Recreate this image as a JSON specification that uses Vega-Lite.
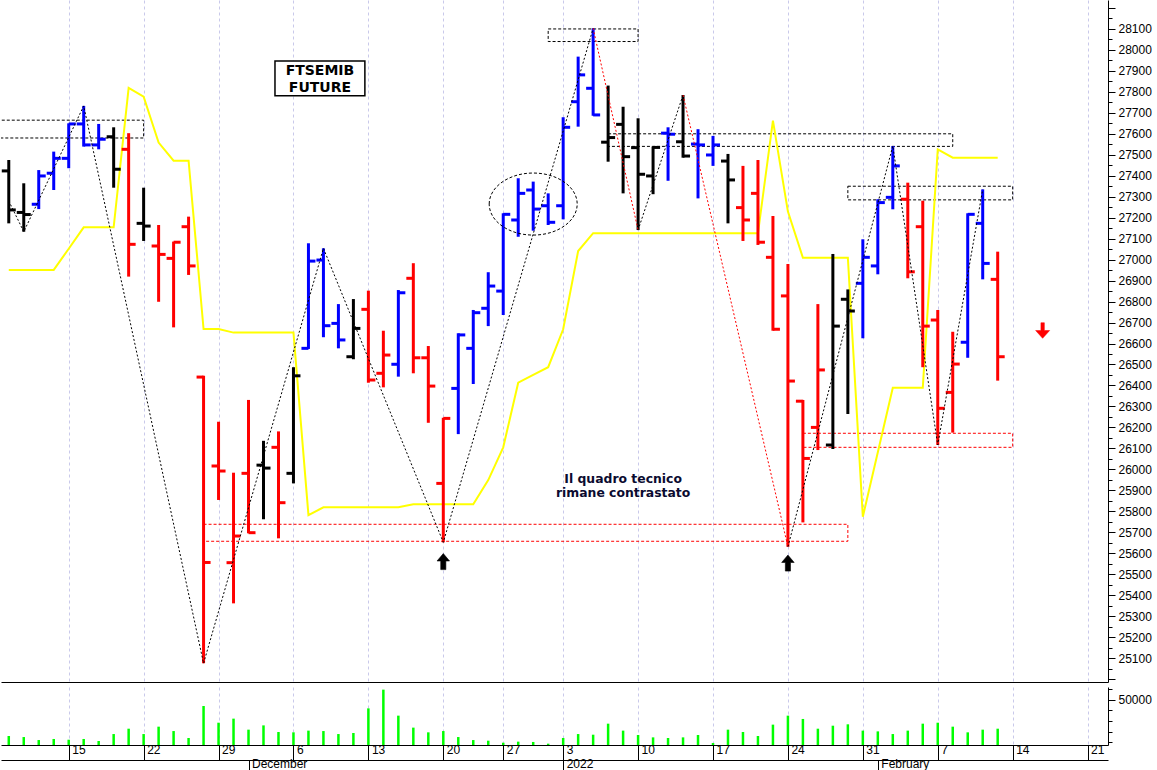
{
  "$schema": "https://vega.github.io/schema/vega-lite/v6.json",
  "padding": 0,
  "background": "#ffffff",
  "config": {"view": {"stroke": null}, "font": "Liberation Sans"},
  "spacing": 0,
  "datasets": {
    "ohlc": [
      {"date":"2021-11-09","o":27423,"h":27475,"l":27173,"c":27237,"trend":"neutral"},
      {"date":"2021-11-10","o":27225,"h":27364,"l":27133,"c":27215,"trend":"neutral"},
      {"date":"2021-11-11","o":27264,"h":27427,"l":27241,"c":27399,"trend":"up"},
      {"date":"2021-11-12","o":27412,"h":27515,"l":27332,"c":27483,"trend":"up"},
      {"date":"2021-11-15","o":27483,"h":27650,"l":27436,"c":27647,"trend":"up"},
      {"date":"2021-11-16","o":27647,"h":27733,"l":27539,"c":27547,"trend":"up"},
      {"date":"2021-11-17","o":27547,"h":27647,"l":27526,"c":27574,"trend":"up"},
      {"date":"2021-11-18","o":27586,"h":27631,"l":27343,"c":27431,"trend":"neutral"},
      {"date":"2021-11-19","o":27526,"h":27603,"l":26919,"c":27073,"trend":"down"},
      {"date":"2021-11-22","o":27173,"h":27343,"l":27089,"c":27160,"trend":"neutral"},
      {"date":"2021-11-23","o":27065,"h":27165,"l":26799,"c":27025,"trend":"down"},
      {"date":"2021-11-24","o":27006,"h":27086,"l":26677,"c":27083,"trend":"down"},
      {"date":"2021-11-25","o":27157,"h":27205,"l":26927,"c":26970,"trend":"down"},
      {"date":"2021-11-26","o":26440,"h":26446,"l":25075,"c":25556,"trend":"down"},
      {"date":"2021-11-29","o":26016,"h":26227,"l":25854,"c":25992,"trend":"down"},
      {"date":"2021-11-30","o":25555,"h":25984,"l":25361,"c":25682,"trend":"down"},
      {"date":"2021-12-01","o":25981,"h":26331,"l":25695,"c":25698,"trend":"down"},
      {"date":"2021-12-02","o":26020,"h":26136,"l":25762,"c":26006,"trend":"neutral"},
      {"date":"2021-12-03","o":26105,"h":26181,"l":25671,"c":25841,"trend":"down"},
      {"date":"2021-12-06","o":25981,"h":26487,"l":25933,"c":26446,"trend":"neutral"},
      {"date":"2021-12-07","o":26577,"h":27078,"l":26574,"c":26993,"trend":"up"},
      {"date":"2021-12-08","o":26998,"h":27054,"l":26630,"c":26685,"trend":"up"},
      {"date":"2021-12-09","o":26696,"h":26788,"l":26577,"c":26617,"trend":"up"},
      {"date":"2021-12-10","o":26537,"h":26812,"l":26525,"c":26672,"trend":"neutral"},
      {"date":"2021-12-13","o":26763,"h":26852,"l":26413,"c":26426,"trend":"down"},
      {"date":"2021-12-14","o":26458,"h":26661,"l":26391,"c":26545,"trend":"down"},
      {"date":"2021-12-15","o":26501,"h":26855,"l":26442,"c":26842,"trend":"up"},
      {"date":"2021-12-16","o":26911,"h":26983,"l":26458,"c":26532,"trend":"down"},
      {"date":"2021-12-17","o":26532,"h":26588,"l":26222,"c":26397,"trend":"down"},
      {"date":"2021-12-20","o":25933,"h":26246,"l":25652,"c":26243,"trend":"down"},
      {"date":"2021-12-21","o":26386,"h":26649,"l":26168,"c":26641,"trend":"up"},
      {"date":"2021-12-22","o":26577,"h":26760,"l":26407,"c":26747,"trend":"up"},
      {"date":"2021-12-23","o":26768,"h":26940,"l":26683,"c":26874,"trend":"up"},
      {"date":"2021-12-27","o":26850,"h":27221,"l":26736,"c":27216,"trend":"up"},
      {"date":"2021-12-28","o":27189,"h":27388,"l":27109,"c":27316,"trend":"up"},
      {"date":"2021-12-29","o":27332,"h":27372,"l":27138,"c":27241,"trend":"up"},
      {"date":"2021-12-30","o":27257,"h":27316,"l":27165,"c":27178,"trend":"up"},
      {"date":"2022-01-03","o":27257,"h":27679,"l":27192,"c":27631,"trend":"up"},
      {"date":"2022-01-04","o":27753,"h":27968,"l":27634,"c":27881,"trend":"up"},
      {"date":"2022-01-05","o":27817,"h":28103,"l":27686,"c":27690,"trend":"up"},
      {"date":"2022-01-06","o":27560,"h":27830,"l":27467,"c":27582,"trend":"neutral"},
      {"date":"2022-01-07","o":27645,"h":27729,"l":27316,"c":27491,"trend":"neutral"},
      {"date":"2022-01-10","o":27534,"h":27674,"l":27141,"c":27407,"trend":"neutral"},
      {"date":"2022-01-11","o":27399,"h":27539,"l":27312,"c":27535,"trend":"neutral"},
      {"date":"2022-01-12","o":27603,"h":27631,"l":27376,"c":27598,"trend":"up"},
      {"date":"2022-01-13","o":27562,"h":27785,"l":27486,"c":27494,"trend":"neutral"},
      {"date":"2022-01-14","o":27551,"h":27622,"l":27292,"c":27547,"trend":"up"},
      {"date":"2022-01-17","o":27499,"h":27590,"l":27447,"c":27547,"trend":"up"},
      {"date":"2022-01-18","o":27470,"h":27504,"l":27173,"c":27380,"trend":"neutral"},
      {"date":"2022-01-19","o":27248,"h":27447,"l":27089,"c":27189,"trend":"down"},
      {"date":"2022-01-20","o":27316,"h":27475,"l":27070,"c":27083,"trend":"down"},
      {"date":"2022-01-21","o":27011,"h":27208,"l":26661,"c":26668,"trend":"down"},
      {"date":"2022-01-24","o":26827,"h":26979,"l":25631,"c":26421,"trend":"down"},
      {"date":"2022-01-25","o":26325,"h":26331,"l":25747,"c":26052,"trend":"down"},
      {"date":"2022-01-26","o":26200,"h":26788,"l":26092,"c":26474,"trend":"down"},
      {"date":"2022-01-27","o":26116,"h":27027,"l":26097,"c":26683,"trend":"neutral"},
      {"date":"2022-01-28","o":26811,"h":26858,"l":26264,"c":26755,"trend":"neutral"},
      {"date":"2022-01-31","o":26887,"h":27097,"l":26625,"c":27011,"trend":"up"},
      {"date":"2022-02-01","o":26970,"h":27288,"l":26930,"c":27272,"trend":"up"},
      {"date":"2022-02-02","o":27297,"h":27542,"l":27240,"c":27447,"trend":"up"},
      {"date":"2022-02-03","o":27288,"h":27367,"l":26911,"c":26942,"trend":"down"},
      {"date":"2022-02-04","o":27157,"h":27281,"l":26487,"c":26683,"trend":"down"},
      {"date":"2022-02-07","o":26712,"h":26760,"l":26116,"c":26291,"trend":"down"},
      {"date":"2022-02-08","o":26367,"h":26656,"l":26175,"c":26502,"trend":"down"},
      {"date":"2022-02-09","o":26606,"h":27221,"l":26532,"c":27216,"trend":"up"},
      {"date":"2022-02-10","o":27173,"h":27335,"l":26906,"c":26982,"trend":"up"},
      {"date":"2022-02-11","o":26906,"h":27038,"l":26423,"c":26537,"trend":"down"}
    ],
    "yellow": [
      {"date":"2021-11-09","price":26951},{"date":"2021-11-10","price":26951},{"date":"2021-11-11","price":26951},{"date":"2021-11-12","price":26951},
      {"date":"2021-11-15","price":27052},{"date":"2021-11-16","price":27154},{"date":"2021-11-17","price":27154},{"date":"2021-11-18","price":27154},
      {"date":"2021-11-19","price":27819},{"date":"2021-11-22","price":27777},{"date":"2021-11-23","price":27558},{"date":"2021-11-24","price":27472},
      {"date":"2021-11-25","price":27472},{"date":"2021-11-26","price":26669},{"date":"2021-11-29","price":26669},{"date":"2021-11-30","price":26652},
      {"date":"2021-12-01","price":26652},{"date":"2021-12-02","price":26652},{"date":"2021-12-03","price":26652},{"date":"2021-12-06","price":26652},
      {"date":"2021-12-07","price":25782},{"date":"2021-12-08","price":25819},{"date":"2021-12-09","price":25819},{"date":"2021-12-10","price":25819},
      {"date":"2021-12-13","price":25819},{"date":"2021-12-14","price":25819},{"date":"2021-12-15","price":25819},{"date":"2021-12-16","price":25834},
      {"date":"2021-12-17","price":25834},{"date":"2021-12-20","price":25834},{"date":"2021-12-21","price":25834},{"date":"2021-12-22","price":25834},
      {"date":"2021-12-23","price":25949},{"date":"2021-12-27","price":26105},{"date":"2021-12-28","price":26413},{"date":"2021-12-29","price":26450},
      {"date":"2021-12-30","price":26487},{"date":"2022-01-03","price":26668},{"date":"2022-01-04","price":27041},{"date":"2022-01-05","price":27126},
      {"date":"2022-01-06","price":27126},{"date":"2022-01-07","price":27126},{"date":"2022-01-10","price":27126},{"date":"2022-01-11","price":27126},
      {"date":"2022-01-12","price":27126},{"date":"2022-01-13","price":27126},{"date":"2022-01-14","price":27126},{"date":"2022-01-17","price":27126},
      {"date":"2022-01-18","price":27126},{"date":"2022-01-19","price":27126},{"date":"2022-01-20","price":27126},{"date":"2022-01-21","price":27663},
      {"date":"2022-01-24","price":27229},{"date":"2022-01-25","price":27009},{"date":"2022-01-26","price":27009},{"date":"2022-01-27","price":27009},
      {"date":"2022-01-28","price":27009},{"date":"2022-01-31","price":25774},{"date":"2022-02-01","price":26082},{"date":"2022-02-02","price":26389},
      {"date":"2022-02-03","price":26389},{"date":"2022-02-04","price":26389},{"date":"2022-02-07","price":27526},{"date":"2022-02-08","price":27486},
      {"date":"2022-02-09","price":27486},{"date":"2022-02-10","price":27486},{"date":"2022-02-11","price":27486}
    ],
    "zig": [
      {"path":"b1","kind":"black","date":"2021-11-09","price":27280},
      {"path":"b1","kind":"black","date":"2021-11-10","price":27133},
      {"path":"b1","kind":"black","date":"2021-11-16","price":27733},
      {"path":"b1","kind":"black","date":"2021-11-26","price":25075},
      {"path":"b1","kind":"black","date":"2021-12-08","price":27054},
      {"path":"b1","kind":"black","date":"2021-12-20","price":25652},
      {"path":"b1","kind":"black","date":"2022-01-05","price":28103},
      {"path":"r1","kind":"red","date":"2022-01-05","price":28103},
      {"path":"r1","kind":"red","date":"2022-01-10","price":27141},
      {"path":"b2","kind":"black","date":"2022-01-10","price":27141},
      {"path":"b2","kind":"black","date":"2022-01-13","price":27785},
      {"path":"r2","kind":"red","date":"2022-01-13","price":27785},
      {"path":"r2","kind":"red","date":"2022-01-24","price":25631},
      {"path":"b3","kind":"black","date":"2022-01-24","price":25631},
      {"path":"b3","kind":"black","date":"2022-02-02","price":27542},
      {"path":"b3","kind":"black","date":"2022-02-07","price":26116},
      {"path":"b3","kind":"black","date":"2022-02-10","price":27335}
    ],
    "boxes": [
      {"id":"b1","kind":"black","date":"2021-11-09","date2":"2021-11-22","lo":27580,"hi":27665},
      {"id":"b2","kind":"black","date":"2021-12-30","date2":"2022-01-10","lo":28040,"hi":28100},
      {"id":"b3","kind":"black","date":"2022-01-06","date2":"2022-02-08","lo":27540,"hi":27600},
      {"id":"b4","kind":"black","date":"2022-01-28","date2":"2022-02-14","lo":27285,"hi":27350},
      {"id":"r1","kind":"red","date":"2021-11-26","date2":"2022-01-28","lo":25657,"hi":25738},
      {"id":"r2","kind":"red","date":"2022-01-25","date2":"2022-02-14","lo":26105,"hi":26172}
    ],
    "ellipse": [{"date":"2021-12-29","price":27265}],
    "arrows": [
      {"date":"2021-12-20","price":25560,"dir":"up"},
      {"date":"2022-01-24","price":25553,"dir":"up"},
      {"date":"2022-02-16","price":26662,"dir":"down"}
    ],
    "titlebox": [{"date":"2021-12-03","date2":"2021-12-13","lo":27782,"hi":27947}],
    "titletext": [
      {"date":"2021-12-08","price":27901,"text":"FTSEMIB"},
      {"date":"2021-12-08","price":27817,"text":"FUTURE"}
    ],
    "notes": [
      {"date":"2022-01-07","price":25954,"text":"Il quadro tecnico"},
      {"date":"2022-01-07","price":25886,"text":"rimane contrastato"}
    ],
    "vol": [
      {"date":"2021-11-09","vol":16100},{"date":"2021-11-10","vol":15100},{"date":"2021-11-11","vol":12300},{"date":"2021-11-12","vol":13300},
      {"date":"2021-11-15","vol":12600},{"date":"2021-11-16","vol":13300},{"date":"2021-11-17","vol":11400},{"date":"2021-11-18","vol":17900},
      {"date":"2021-11-19","vol":22900},{"date":"2021-11-22","vol":17900},{"date":"2021-11-23","vol":24800},{"date":"2021-11-24","vol":20700},
      {"date":"2021-11-25","vol":14200},{"date":"2021-11-26","vol":44100},{"date":"2021-11-29","vol":28500},{"date":"2021-11-30","vol":32300},
      {"date":"2021-12-01","vol":22000},{"date":"2021-12-02","vol":26000},{"date":"2021-12-03","vol":19800},{"date":"2021-12-06","vol":19500},
      {"date":"2021-12-07","vol":21100},{"date":"2021-12-08","vol":20700},{"date":"2021-12-09","vol":17900},{"date":"2021-12-10","vol":18900},
      {"date":"2021-12-13","vol":41900},{"date":"2021-12-14","vol":59400},{"date":"2021-12-15","vol":35100},{"date":"2021-12-16","vol":23900},
      {"date":"2021-12-17","vol":19500},{"date":"2021-12-20","vol":20700},{"date":"2021-12-21","vol":15100},{"date":"2021-12-22","vol":12300},
      {"date":"2021-12-23","vol":11700},{"date":"2021-12-27","vol":9800},{"date":"2021-12-28","vol":10800},{"date":"2021-12-29","vol":10500},
      {"date":"2021-12-30","vol":8900},{"date":"2022-01-03","vol":14200},{"date":"2022-01-04","vol":17900},{"date":"2022-01-05","vol":17300},
      {"date":"2022-01-06","vol":27600},{"date":"2022-01-07","vol":21100},{"date":"2022-01-10","vol":17000},{"date":"2022-01-11","vol":14800},
      {"date":"2022-01-12","vol":14200},{"date":"2022-01-13","vol":14800},{"date":"2022-01-14","vol":17000},{"date":"2022-01-17","vol":9500},
      {"date":"2022-01-18","vol":22000},{"date":"2022-01-19","vol":19800},{"date":"2022-01-20","vol":16100},{"date":"2022-01-21","vol":26700},
      {"date":"2022-01-24","vol":35100},{"date":"2022-01-25","vol":32000},{"date":"2022-01-26","vol":22900},{"date":"2022-01-27","vol":25700},
      {"date":"2022-01-28","vol":27000},{"date":"2022-01-31","vol":21100},{"date":"2022-02-01","vol":20400},{"date":"2022-02-02","vol":17900},
      {"date":"2022-02-03","vol":21100},{"date":"2022-02-04","vol":27600},{"date":"2022-02-07","vol":28500},{"date":"2022-02-08","vol":24800},
      {"date":"2022-02-09","vol":19500},{"date":"2022-02-10","vol":22000},{"date":"2022-02-11","vol":22900}
    ]
  },
  "vconcat": [
    {
      "width": 1107,
      "height": 682,
      "encoding": {
        "x": {
          "field": "date", "type": "ordinal",
          "scale": {"type": "point", "padding": 0.4405, "align": 0.589, "domain": ["2021-11-09","2021-11-10","2021-11-11","2021-11-12","2021-11-15","2021-11-16","2021-11-17","2021-11-18","2021-11-19","2021-11-22","2021-11-23","2021-11-24","2021-11-25","2021-11-26","2021-11-29","2021-11-30","2021-12-01","2021-12-02","2021-12-03","2021-12-06","2021-12-07","2021-12-08","2021-12-09","2021-12-10","2021-12-13","2021-12-14","2021-12-15","2021-12-16","2021-12-17","2021-12-20","2021-12-21","2021-12-22","2021-12-23","2021-12-27","2021-12-28","2021-12-29","2021-12-30","2022-01-03","2022-01-04","2022-01-05","2022-01-06","2022-01-07","2022-01-10","2022-01-11","2022-01-12","2022-01-13","2022-01-14","2022-01-17","2022-01-18","2022-01-19","2022-01-20","2022-01-21","2022-01-24","2022-01-25","2022-01-26","2022-01-27","2022-01-28","2022-01-31","2022-02-01","2022-02-02","2022-02-03","2022-02-04","2022-02-07","2022-02-08","2022-02-09","2022-02-10","2022-02-11","2022-02-14","2022-02-15","2022-02-16","2022-02-17","2022-02-18","2022-02-21","2022-02-22"]},
          "axis": {"orient": "bottom", "title": null, "zindex": 0, "values": ["2021-11-15","2021-11-22","2021-11-29","2021-12-06","2021-12-13","2021-12-20","2021-12-27","2022-01-03","2022-01-10","2022-01-17","2022-01-24","2022-01-31","2022-02-07","2022-02-14","2022-02-21"], "labels": false, "ticks": false, "domain": true, "domainColor": "#000000", "domainWidth": 1, "grid": true, "gridColor": "#c9c9ea", "gridDash": [3, 3], "gridWidth": 1}
        }
      },
      "layer": [
        {
          "data": {"name": "boxes"},
          "transform": [{"filter": "datum.kind == 'black' && datum.id != 'b1'"}],
          "mark": {"type": "rect", "filled": false, "stroke": "#000000", "strokeWidth": 1, "strokeDash": [3, 2]},
          "encoding": {
            "x2": {"field": "date2"},
            "y": {"field": "lo", "type": "quantitative", "scale": {"domain": [24986, 28238], "nice": false, "zero": false},
              "axis": {"orient": "right", "title": null, "zindex": 0, "values": [25000,25100,25200,25300,25400,25500,25600,25700,25800,25900,26000,26100,26200,26300,26400,26500,26600,26700,26800,26900,27000,27100,27200,27300,27400,27500,27600,27700,27800,27900,28000,28100,28200],
                "labelExpr": "(datum.value >= 25100 && datum.value <= 28100) ? ('' + datum.value) : ''",
                "tickSize": 7, "labelPadding": 3, "labelFont": "Liberation Sans", "labelFontSize": 12, "labelColor": "#000000", "labelBaseline": "middle", "tickColor": "#000000", "domainColor": "#000000", "grid": false, "labelOverlap": false, "labelBound": false, "labelFlush": false}},
            "y2": {"field": "hi"}
          }
        },
        {
          "data": {"name": "boxes"},
          "transform": [{"filter": "datum.id == 'b1'"}],
          "mark": {"type": "rect", "filled": false, "stroke": "#000000", "strokeWidth": 1, "strokeDash": [3, 2], "xOffset": -12, "clip": true},
          "encoding": {
            "x2": {"field": "date2"},
            "y": {"field": "lo", "type": "quantitative", "scale": {"domain": [24986, 28238], "nice": false, "zero": false},
              "axis": {"orient": "right", "title": null, "zindex": 0, "values": [25050,25150,25250,25350,25450,25550,25650,25750,25850,25950,26050,26150,26250,26350,26450,26550,26650,26750,26850,26950,27050,27150,27250,27350,27450,27550,27650,27750,27850,27950,28050,28150],
                "labels": false, "tickSize": 4, "tickColor": "#000000", "domain": false, "grid": false}},
            "y2": {"field": "hi"}
          }
        },
        {
          "data": {"name": "boxes"},
          "transform": [{"filter": "datum.kind == 'red'"}],
          "mark": {"type": "rect", "filled": false, "stroke": "#ff0000", "strokeWidth": 1, "strokeDash": [3, 2]},
          "encoding": {
            "x2": {"field": "date2"},
            "y": {"field": "lo", "type": "quantitative", "scale": {"domain": [24986, 28238], "nice": false, "zero": false}, "axis": null},
            "y2": {"field": "hi"}
          }
        },
        {
          "data": {"name": "yellow"},
          "mark": {"type": "line", "color": "#ffff00", "strokeWidth": 2},
          "encoding": {
            "y": {"field": "price", "type": "quantitative", "scale": {"domain": [24986, 28238], "nice": false, "zero": false}, "axis": null}
          }
        },
        {
          "data": {"name": "ohlc"},
          "mark": {"type": "rule", "strokeWidth": 3},
          "encoding": {
            "y": {"field": "l", "type": "quantitative", "scale": {"domain": [24986, 28238], "nice": false, "zero": false}, "axis": null},
            "y2": {"field": "h"},
            "color": {"field": "trend", "type": "nominal", "scale": {"domain": ["up", "down", "neutral"], "range": ["#0000ff", "#ff0000", "#000000"]}, "legend": null}
          }
        },
        {
          "data": {"name": "ohlc"},
          "mark": {"type": "rule", "strokeWidth": 3, "x2Offset": -7},
          "encoding": {
            "x2": {"field": "date"},
            "y": {"field": "o", "type": "quantitative", "scale": {"domain": [24986, 28238], "nice": false, "zero": false}, "axis": null},
            "color": {"field": "trend", "type": "nominal", "scale": {"domain": ["up", "down", "neutral"], "range": ["#0000ff", "#ff0000", "#000000"]}, "legend": null}
          }
        },
        {
          "data": {"name": "ohlc"},
          "mark": {"type": "rule", "strokeWidth": 3, "x2Offset": 7},
          "encoding": {
            "x2": {"field": "date"},
            "y": {"field": "c", "type": "quantitative", "scale": {"domain": [24986, 28238], "nice": false, "zero": false}, "axis": null},
            "color": {"field": "trend", "type": "nominal", "scale": {"domain": ["up", "down", "neutral"], "range": ["#0000ff", "#ff0000", "#000000"]}, "legend": null}
          }
        },
        {
          "data": {"name": "zig"},
          "transform": [{"filter": "datum.kind == 'black'"}],
          "mark": {"type": "line", "color": "#000000", "strokeWidth": 1, "strokeDash": [2, 2]},
          "encoding": {
            "y": {"field": "price", "type": "quantitative", "scale": {"domain": [24986, 28238], "nice": false, "zero": false}, "axis": null},
            "detail": {"field": "path"}
          }
        },
        {
          "data": {"name": "zig"},
          "transform": [{"filter": "datum.kind == 'red'"}],
          "mark": {"type": "line", "color": "#ff0000", "strokeWidth": 1, "strokeDash": [2, 2]},
          "encoding": {
            "y": {"field": "price", "type": "quantitative", "scale": {"domain": [24986, 28238], "nice": false, "zero": false}, "axis": null},
            "detail": {"field": "path"}
          }
        },
        {
          "data": {"name": "ellipse"},
          "mark": {"type": "point", "shape": "M-1,0 A1,0.705 0 1,1 1,0 A1,0.705 0 1,1 -1,0 Z", "size": 7744, "filled": false, "stroke": "#000000", "strokeWidth": 1, "strokeDash": [3, 2], "opacity": 1},
          "encoding": {
            "y": {"field": "price", "type": "quantitative", "scale": {"domain": [24986, 28238], "nice": false, "zero": false}, "axis": null}
          }
        },
        {
          "data": {"name": "arrows"},
          "transform": [{"filter": "datum.dir == 'up'"}],
          "mark": {"type": "point", "shape": "M0,-1 L0.78,-0.08 L0.32,-0.08 L0.32,1 L-0.32,1 L-0.32,-0.08 L-0.78,-0.08 Z", "size": 256, "filled": true, "fill": "#000000", "fillOpacity": 1, "stroke": "#000000", "strokeWidth": 0.6, "opacity": 1},
          "encoding": {
            "y": {"field": "price", "type": "quantitative", "scale": {"domain": [24986, 28238], "nice": false, "zero": false}, "axis": null}
          }
        },
        {
          "data": {"name": "arrows"},
          "transform": [{"filter": "datum.dir == 'down'"}],
          "mark": {"type": "point", "shape": "M0,1 L0.9,0 L0.22,0 L0.22,-1 L-0.22,-1 L-0.22,0 L-0.9,0 Z", "size": 243, "filled": true, "fill": "#ff0000", "fillOpacity": 1, "stroke": "#ff0000", "strokeWidth": 0.5, "opacity": 1},
          "encoding": {
            "y": {"field": "price", "type": "quantitative", "scale": {"domain": [24986, 28238], "nice": false, "zero": false}, "axis": null}
          }
        },
        {
          "data": {"name": "titlebox"},
          "mark": {"type": "rect", "fill": "#ffffff", "stroke": "#000000", "strokeWidth": 1.5, "xOffset": -3.5, "x2Offset": -3.5},
          "encoding": {
            "x2": {"field": "date2"},
            "y": {"field": "lo", "type": "quantitative", "scale": {"domain": [24986, 28238], "nice": false, "zero": false}, "axis": null},
            "y2": {"field": "hi"}
          }
        },
        {
          "data": {"name": "titletext"},
          "mark": {"type": "text", "font": "DejaVu Sans", "fontWeight": "bold", "fontSize": 14, "color": "#000000", "align": "center", "baseline": "middle", "dx": -3.5},
          "encoding": {
            "y": {"field": "price", "type": "quantitative", "scale": {"domain": [24986, 28238], "nice": false, "zero": false}, "axis": null},
            "text": {"field": "text"}
          }
        },
        {
          "data": {"name": "notes"},
          "mark": {"type": "text", "font": "DejaVu Sans", "fontWeight": "bold", "fontSize": 12.4, "color": "#0b0b30", "align": "center", "baseline": "middle"},
          "encoding": {
            "y": {"field": "price", "type": "quantitative", "scale": {"domain": [24986, 28238], "nice": false, "zero": false}, "axis": null},
            "text": {"field": "text"}
          }
        }
      ],
      "resolve": {"axis": {"y": "independent"}}
    },
    {
      "width": 1107,
      "height": 58,
      "view": {"stroke": null},
      "layer": [
        {
          "data": {"name": "vol"},
          "mark": {"type": "bar", "size": 2.5, "color": "#00ff00", "clip": true},
          "encoding": {
            "x": {
              "field": "date", "type": "ordinal",
              "scale": {"type": "point", "padding": 0.4405, "align": 0.589, "domain": ["2021-11-09","2021-11-10","2021-11-11","2021-11-12","2021-11-15","2021-11-16","2021-11-17","2021-11-18","2021-11-19","2021-11-22","2021-11-23","2021-11-24","2021-11-25","2021-11-26","2021-11-29","2021-11-30","2021-12-01","2021-12-02","2021-12-03","2021-12-06","2021-12-07","2021-12-08","2021-12-09","2021-12-10","2021-12-13","2021-12-14","2021-12-15","2021-12-16","2021-12-17","2021-12-20","2021-12-21","2021-12-22","2021-12-23","2021-12-27","2021-12-28","2021-12-29","2021-12-30","2022-01-03","2022-01-04","2022-01-05","2022-01-06","2022-01-07","2022-01-10","2022-01-11","2022-01-12","2022-01-13","2022-01-14","2022-01-17","2022-01-18","2022-01-19","2022-01-20","2022-01-21","2022-01-24","2022-01-25","2022-01-26","2022-01-27","2022-01-28","2022-01-31","2022-02-01","2022-02-02","2022-02-03","2022-02-04","2022-02-07","2022-02-08","2022-02-09","2022-02-10","2022-02-11","2022-02-14","2022-02-15","2022-02-16","2022-02-17","2022-02-18","2022-02-21","2022-02-22"]},
              "axis": {"orient": "bottom", "title": null, "zindex": 0, "values": ["2021-11-15","2021-11-22","2021-11-29","2021-12-06","2021-12-13","2021-12-20","2021-12-27","2022-01-03","2022-01-10","2022-01-17","2022-01-24","2022-01-31","2022-02-07","2022-02-14","2022-02-21"],
                "labelExpr": "'' + toNumber(slice(datum.value, 8))",
                "labelAngle": 0, "labelAlign": "left", "labelBaseline": "alphabetic", "labelOffset": 3, "labelPadding": -7, "tickSize": 15, "tickColor": "#000000", "domain": true, "domainColor": "#000000",
                "grid": true, "gridColor": "#c9c9ea", "gridDash": [3, 3], "gridWidth": 1,
                "labelFont": "Liberation Sans", "labelFontSize": 12, "labelColor": "#000000", "labelOverlap": false, "labelBound": false, "labelFlush": false}
            },
            "y": {"field": "vol", "type": "quantitative", "scale": {"domain": [7663, 61870], "nice": false, "zero": false},
              "axis": {"orient": "right", "title": null, "zindex": 0, "values": [50000],
                "labelExpr": "'50000'", "tickSize": 7,
                "labelPadding": 3, "labelFont": "Liberation Sans", "labelFontSize": 12, "labelColor": "#000000", "labelBaseline": "middle", "tickColor": "#000000", "domainColor": "#000000", "grid": false, "labelOverlap": false, "labelBound": false, "labelFlush": false}}
          }
        },
        {
          "data": {"name": "vol"},
          "mark": {"type": "point", "opacity": 0},
          "encoding": {
            "x": {
              "field": "date", "type": "ordinal",
              "scale": {"type": "point", "padding": 0.4405, "align": 0.589, "domain": ["2021-11-09","2021-11-10","2021-11-11","2021-11-12","2021-11-15","2021-11-16","2021-11-17","2021-11-18","2021-11-19","2021-11-22","2021-11-23","2021-11-24","2021-11-25","2021-11-26","2021-11-29","2021-11-30","2021-12-01","2021-12-02","2021-12-03","2021-12-06","2021-12-07","2021-12-08","2021-12-09","2021-12-10","2021-12-13","2021-12-14","2021-12-15","2021-12-16","2021-12-17","2021-12-20","2021-12-21","2021-12-22","2021-12-23","2021-12-27","2021-12-28","2021-12-29","2021-12-30","2022-01-03","2022-01-04","2022-01-05","2022-01-06","2022-01-07","2022-01-10","2022-01-11","2022-01-12","2022-01-13","2022-01-14","2022-01-17","2022-01-18","2022-01-19","2022-01-20","2022-01-21","2022-01-24","2022-01-25","2022-01-26","2022-01-27","2022-01-28","2022-01-31","2022-02-01","2022-02-02","2022-02-03","2022-02-04","2022-02-07","2022-02-08","2022-02-09","2022-02-10","2022-02-11","2022-02-14","2022-02-15","2022-02-16","2022-02-17","2022-02-18","2022-02-21","2022-02-22"]},
              "axis": {"orient": "bottom", "offset": 15, "title": null, "zindex": 0, "values": ["2021-12-01", "2022-01-03", "2022-02-01"],
                "labelExpr": "datum.value == '2021-12-01' ? 'December' : (datum.value == '2022-01-03' ? '2022' : 'February')",
                "labelAngle": 0, "labelAlign": "left", "labelBaseline": "alphabetic", "labelOffset": 3, "labelPadding": -8, "tickSize": 15, "tickColor": "#000000", "domain": true, "domainColor": "#000000", "grid": false,
                "labelFont": "Liberation Sans", "labelFontSize": 12, "labelColor": "#000000", "labelOverlap": false, "labelBound": false, "labelFlush": false}
            },
            "y": {"field": "vol", "type": "quantitative", "scale": {"domain": [7663, 61870], "nice": false, "zero": false},
              "axis": {"orient": "right", "title": null, "zindex": 0, "values": [10000, 20000, 30000, 40000, 60000], "labels": false, "tickSize": 4, "tickColor": "#000000", "domain": false, "grid": false}}
          }
        }
      ],
      "resolve": {"axis": {"x": "independent", "y": "independent"}}
    }
  ]
}
